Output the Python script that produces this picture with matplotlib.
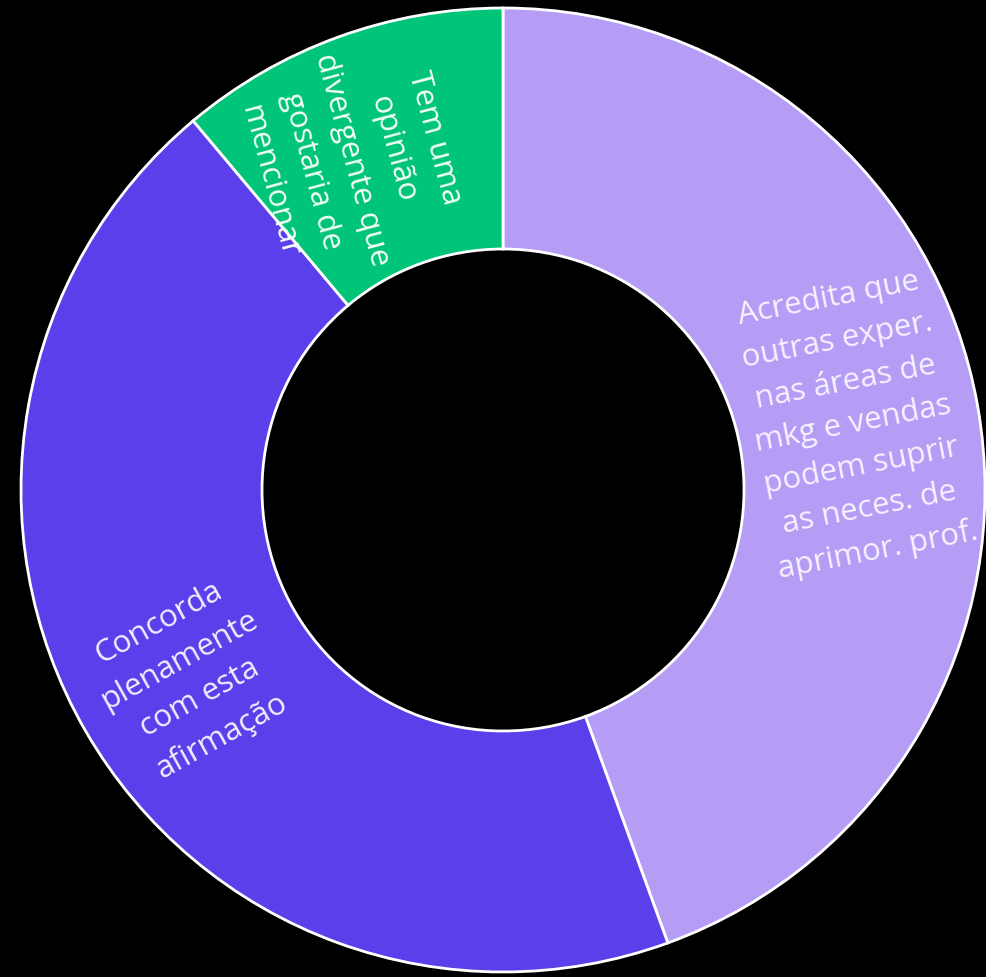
import matplotlib
matplotlib.use("Agg")
import matplotlib.pyplot as plt

# Survey answers (counts) and their labels
categories = [
    "Acredita que\noutras exper.\nnas áreas de\nmkg e vendas\npodem suprir\nas neces. de\naprimor. prof.",
    "Concorda\nplenamente\ncom esta\nafirmação",
    "Tem uma\nopinião\ndivergente que\ngostaria de\nmencionar",
]
values = [4, 4, 1]
colors = ["#B59DF5", "#5B3FEA", "#00C478"]

# Label placement (data coords) and text rotation per slice
label_xy = [(0.727, 0.135), (-0.649, -0.394), (-0.313, 0.685)]
label_rot = [11, 29, -75]
label_color = ["#F6F2FF", "#F2EEFF", "#F2FFF6"]

W, H, DPI = 987, 977, 100
fig = plt.figure(figsize=(W / DPI, H / DPI), dpi=DPI, facecolor="black")
ax = fig.add_axes([0, 0, 1, 1])
ax.set_facecolor("black")

ax.pie(
    values,
    colors=colors,
    startangle=90,
    counterclock=False,
    radius=1.0,
    wedgeprops=dict(width=0.5, edgecolor="white", linewidth=2),
)

for text, (x, y), rot, c in zip(categories, label_xy, label_rot, label_color):
    ax.text(x, y, text, ha="center", va="center", rotation=rot,
            rotation_mode="anchor", multialignment="center",
            fontsize=22.5, color=c, family=["Open Sans", "DejaVu Sans"],
            linespacing=1.55, zorder=5)

# Center the ring at the chosen pixel position with equal scaling
cx, cy, r = 503, 490, 482
ax.set_xlim(-cx / r, (W - cx) / r)
ax.set_ylim(-(H - cy) / r, cy / r)
ax.set_aspect("auto")
ax.axis("off")

fig.savefig("out.png", dpi=DPI, facecolor="black")
